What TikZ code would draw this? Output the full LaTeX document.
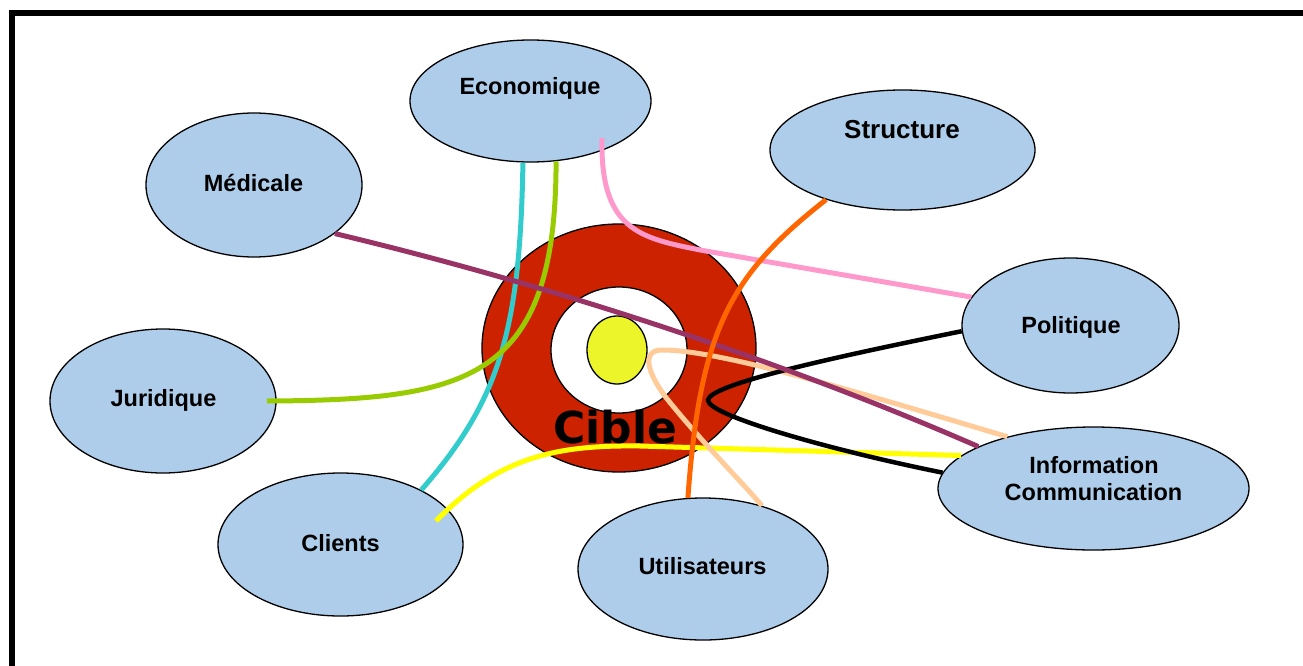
\documentclass[tikz,border=0pt]{standalone}
\usepackage{fontspec}
\setmainfont{Liberation Sans}
\newfontfamily\ciblefont{DejaVu Sans}
\usepackage{tikz}
\usetikzlibrary{shapes.geometric}

\definecolor{bleuclair}{RGB}{174,205,234}
\definecolor{rougecible}{RGB}{204,34,0}
\definecolor{jaunecible}{RGB}{236,245,42}
\definecolor{filcyan}{RGB}{51,204,204}
\definecolor{filvert}{RGB}{153,204,0}
\definecolor{filrose}{RGB}{255,153,204}
\definecolor{filbordeaux}{RGB}{153,51,102}
\definecolor{filorange}{RGB}{255,102,0}
\definecolor{filpeche}{RGB}{255,204,153}
\definecolor{filjaune}{RGB}{255,255,0}

\tikzset{
  bulle/.style={ellipse, draw=black, line width=1.3pt, fill=bleuclair, inner sep=0pt},
  titre/.style={font=\bfseries\fontsize{23.5}{26}\selectfont, anchor=base, inner sep=0pt},
  fil/.style={line width=5pt},
}

\begin{document}
\begin{tikzpicture}[x=1pt,y=-1pt]
    \useasboundingbox (0,0) rectangle (1303,666);
    % cadre
    \draw[line width=6pt] (1310,13) -- (12,13) -- (12,672);

    % la cible
    \node[ellipse, draw, line width=1.3pt, fill=rougecible, inner sep=0pt,
          minimum width=274pt, minimum height=248pt] (cible) at (619,348) {};
    \node[ellipse, draw, line width=1.3pt, fill=white, inner sep=0pt,
          minimum width=136pt, minimum height=126pt] (blanc) at (619,350) {};
    \node[ellipse, draw, line width=1.3pt, fill=jaunecible, inner sep=0pt,
          minimum width=60pt, minimum height=68pt] (coeur) at (617,350) {};
    \node[font=\ciblefont\bfseries\fontsize{44}{46}\selectfont, anchor=base, inner sep=0pt] (cible-t) at (615,443) {Cible};

    % les bulles
    \node[bulle, minimum width=241pt, minimum height=122pt] (eco) at (530.5,101) {};
    \node[bulle, minimum width=216pt, minimum height=144pt] (med) at (254,185) {};
    \node[bulle, minimum width=265pt, minimum height=120pt] (struc) at (902.5,150) {};
    \node[bulle, minimum width=217pt, minimum height=135pt] (pol) at (1070.5,325.5) {};
    \node[bulle, minimum width=226pt, minimum height=144pt] (jur) at (163,401) {};
    \node[bulle, minimum width=245pt, minimum height=143pt] (cli) at (340.5,544.5) {};
    \node[bulle, minimum width=250pt, minimum height=142pt] (util) at (703,569) {};
    \node[bulle, minimum width=311pt, minimum height=123pt] (info) at (1093.5,488.5) {};

    \node[titre] (eco-t) at (530,95) {Economique};
    \node[titre] (med-t) at (253.5,191) {Médicale};
    \node[titre, font=\bfseries\fontsize{26}{28}\selectfont] (struc-t) at (902,139) {Structure};
    \node[titre] (pol-t) at (1071,333.5) {Politique};
    \node[titre] (jur-t) at (163.5,406.5) {Juridique};
    \node[titre] (cli-t) at (340.5,551.5) {Clients};
    \node[titre] (util-t) at (702.5,574) {Utilisateurs};
    \node[titre] (info-t) at (1094,473) {Information};
    \node[titre] (com-t) at (1093.5,500) {Communication};

    \coordinate (eco-in) at (602,138);
    \coordinate (jur-in) at (267,401);
    \coordinate (cli-in) at (436,521);

    % les fils
    \draw[fil, filjaune] (cli-in) .. controls (500,455) and (560,445) .. (640,446) -- (info.166);
    \draw[fil, filrose] (eco-in) .. controls (600,230) and (640,238) .. (700,250) -- (pol.164.5);
    \draw[fil, filcyan] (eco.-97) .. controls (520,330) and (500,400) .. (cli.34);
    \draw[fil, filvert] (eco.-67) .. controls (556,380) and (470,400) .. (jur-in);
    \draw[fil, filpeche] (info.149) .. controls (850,390) and (720,350) .. (662,350)
        .. controls (640,350) and (648,375) .. (668,400)
        .. controls (700,440) and (740,480) .. (util.47);
    \draw[fil, black, line width=4.5pt] (pol.-177) .. controls (820,360) and (710,385) .. (708,400)
        .. controls (707,415) and (830,450) .. (info.174);
    \draw[fil, filbordeaux] (med.-31) .. controls (550,285) and (780,360) .. (info.160);
    \draw[fil, filorange] (struc.-147) .. controls (730,275) and (700,330) .. (util.102);
\end{tikzpicture}
\end{document}
